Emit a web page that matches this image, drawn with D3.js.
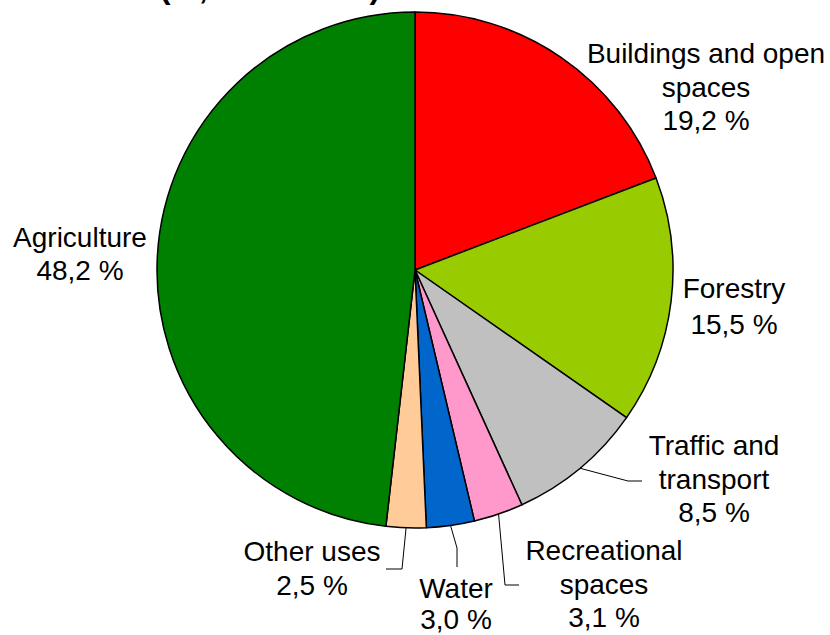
<!DOCTYPE html>
<html>
<head>
<meta charset="utf-8">
<script src="https://cdn.jsdelivr.net/npm/d3@7"></script>
<style>
  body { margin: 0; background: #fff; }
  svg text { font-family: "Liberation Sans", Arial, sans-serif; fill: #000; }
</style>
</head>
<body>
<svg id="viz" width="830" height="635"></svg>
<script>
// land use shares, clockwise from 12 o'clock
var categories = ["Buildings and open spaces", "Forestry", "Traffic and transport",
                  "Recreational spaces", "Water", "Other uses", "Agriculture"]
  , values = [19.2, 15.5, 8.5, 3.1, 3.0, 2.5, 48.2]
  , colors = ["#ff0000", "#99cc00", "#c0c0c0", "#ff99cc", "#0066cc", "#ffcc99", "#008000"]
  // label lines as printed
  , labelLines = [
      ["Buildings and open", "spaces", "19,2 %"],
      ["Forestry", "15,5 %"],
      ["Traffic and", "transport", "8,5 %"],
      ["Recreational", "spaces", "3,1 %"],
      ["Water", "3,0 %"],
      ["Other uses", "2,5 %"],
      ["Agriculture", "48,2 %"]
    ];

var cx = 415, cy = 270, radius = 258;

// label anchor (x centre, first baseline, line step) and leader elbow for small slices
var labelPos = [
  {x: 706, y: 63, dy: 33.5},
  {x: 734, y: 298, dy: 36},
  {x: 714, y: 455, dy: 33.5, elbow: [628, 481], end: [642, 481]},
  {x: 604, y: 560, dy: 33.5, elbow: [505, 585], end: [519, 585]},
  {x: 456, y: 598, dy: 31, elbow: [457, 548], end: [457, 567]},
  {x: 312, y: 561, dy: 34, elbow: [402, 569], end: [386, 569]},
  {x: 80, y: 247, dy: 33}
];

var svg = d3.select("#viz");

// title, mostly outside the visible area (as in the source image)
svg.append("text")
    .attr("x", 160)
    .attr("y", -1)
    .attr("font-size", 29)
    .attr("font-weight", "bold")
    .attr("textLength", 220)
    .attr("lengthAdjust", "spacingAndGlyphs")
    .text("(%, as of 2019)");

var data = categories.map(function(c, i){
  return {name: c, value: values[i], color: colors[i], lines: labelLines[i], pos: labelPos[i]};
});

var pie = d3.pie()
    .value(d => d.value)
    .sort(null);

var arc = d3.arc()
    .innerRadius(0)
    .outerRadius(radius);

var arcs = pie(data);

var g = svg.append("g")
    .attr("transform", "translate(" + cx + "," + cy + ")");

g.selectAll("path")
  .data(arcs)
  .enter().append("path")
    .attr("d", arc)
    .attr("fill", d => d.data.color)
    .attr("stroke", "#000")
    .attr("stroke-width", 1.5)
    .attr("stroke-linejoin", "round");

// leader lines from the slice edge
arcs.filter(d => d.data.pos.elbow).forEach(function(d){
  var mid = (d.startAngle + d.endAngle) / 2
    , sx = cx + radius * Math.sin(mid)
    , sy = cy - radius * Math.cos(mid);
  svg.append("polyline")
      .attr("points", [[sx, sy], d.data.pos.elbow, d.data.pos.end].map(p => p.join(",")).join(" "))
      .attr("fill", "none")
      .attr("stroke", "#000")
      .attr("stroke-width", 1);
});

// labels
var labels = svg.selectAll("text.lbl")
  .data(data)
  .enter().append("text")
    .attr("class", "lbl")
    .attr("text-anchor", "middle")
    .attr("font-size", 28);

labels.selectAll("tspan")
  .data(d => d.lines.map((l, i) => ({t: l, i: i, p: d.pos})))
  .enter().append("tspan")
    .attr("x", d => d.p.x)
    .attr("y", d => d.p.y + d.i * d.p.dy)
    .text(d => d.t);
</script>
</body>
</html>
